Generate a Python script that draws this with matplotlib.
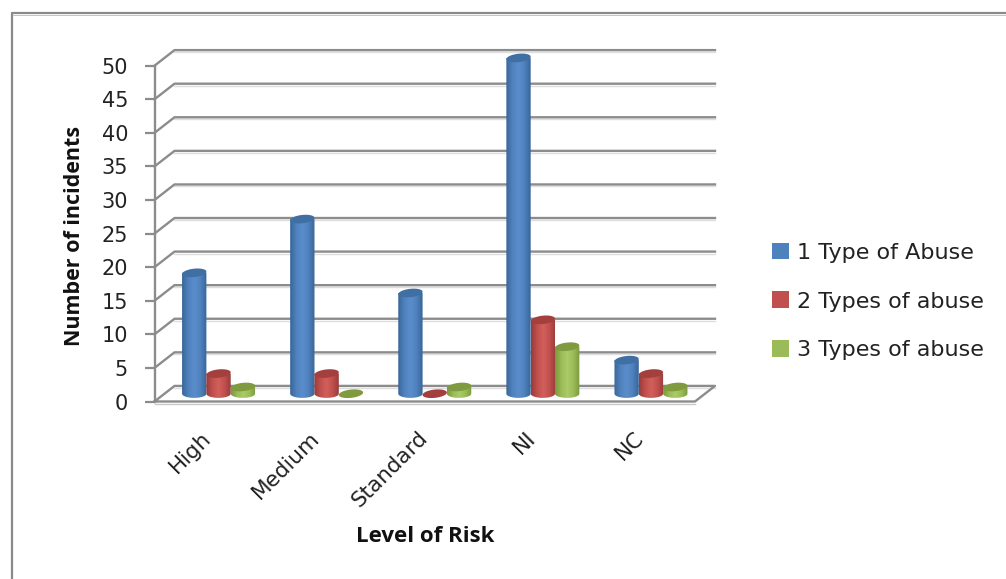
import numpy as np
import matplotlib
matplotlib.use("Agg")
import matplotlib.pyplot as plt
from matplotlib.colors import LinearSegmentedColormap
from matplotlib.lines import Line2D
from matplotlib.patches import Patch, Polygon

W, H = 1006, 579

categories = ["High", "Medium", "Standard", "NI", "NC"]
one_type = [18, 26, 15, 50, 5]
two_types = [3, 3, 0, 11, 3]
three_types = [1, 0, 1, 7, 1]
series_names = ["1 Type of Abuse", "2 Types of abuse", "3 Types of abuse"]
y_ticks = [0, 5, 10, 15, 20, 25, 30, 35, 40, 45, 50]

# (shadow, mid, highlight) for each series
palette = [("#38669a", "#4f81bd", "#5a8dcb"),
           ("#983c3a", "#c0504d", "#d25f5c"),
           ("#7a9a3c", "#9bbb59", "#abcb66")]
top_colors = ["#3f6fa3", "#a33f3d", "#7f9a3f"]
grid_color = "#8c8c8c"

# depth of the box, in data units
depth_x = 0.185
depth_y = 2.32
bar_w = 0.225


def cylinder(ax, x, value, colors, top):
    """Draw one shaded cylinder standing halfway into the box."""
    half = bar_w / 2
    base = depth_y * 0.5
    ry = 0.62
    if value > 0:
        arc = np.linspace(0, np.pi, 30)
        lower = np.column_stack([x + half * np.cos(arc), base - ry * np.sin(arc)])
        verts = np.vstack([[(x - half, base + value), (x + half, base + value)], lower])
        body = Polygon(verts, closed=True, fc="none", ec="none", zorder=4)
        ax.add_patch(body)
        cmap = LinearSegmentedColormap.from_list(
            "c", [colors[0], colors[1], colors[2], colors[1], colors[0]])
        grad = ax.imshow(np.linspace(0, 1, 64).reshape(1, -1), cmap=cmap, aspect="auto",
                         extent=(x - half, x + half, base - ry, base + value), zorder=4)
        grad.set_clip_path(body)
        # the tallest bar pokes out above the front plane
        grad.set_clip_box(ax.figure.bbox)
    t = np.linspace(0, 2 * np.pi, 60)
    ring = np.column_stack([x + half * np.cos(t),
                            base + value + ry * np.sin(t) + 0.18 * np.cos(t)])
    ax.add_patch(Polygon(ring, closed=True, fc=top, ec="none", zorder=5, clip_on=False))


fig = plt.figure(figsize=(W / 100, H / 100), dpi=100)
plt.rcParams["font.family"] = ["DejaVu Sans"]

# outer chart frame
fig.add_artist(Line2D([11.5 / W, 11.5 / W, 1], [0, 1 - 13 / H, 1 - 13 / H],
                      color="#8a8a8a", lw=1.6))
fig.add_artist(Line2D([13 / W, 1], [1 - 14.5 / H, 1 - 14.5 / H], color="#c4c4c4", lw=0.7))

# axes rectangle is the front plane of the box
left, right, top_px, bottom_px = 154.5, 695, 65.7, 401.5
ax = fig.add_axes([left / W, 1 - bottom_px / H, (right - left) / W, (bottom_px - top_px) / H])
ax.patch.set_alpha(0)

xs = np.arange(len(categories))
for v in y_ticks:
    # soft shadow, side wall diagonal and back wall line
    ax.plot([depth_x, 5 + depth_x], [v + depth_y - 0.3] * 2, color="#dedede", lw=1.0,
            zorder=1, clip_on=False)
    if v > 0:
        ax.plot([0, depth_x, 5 + depth_x], [v, v + depth_y, v + depth_y], color=grid_color,
                lw=1.7, zorder=2, clip_on=False, solid_joinstyle="round")

# floor of the box
ax.plot([0, 5, 5 + depth_x, depth_x, 0], [0, 0, depth_y, depth_y, 0], color=grid_color,
        lw=1.7, zorder=3, clip_on=False)
ax.plot([0, 5], [-0.3, -0.3], color="#c8c8c8", lw=1.0, zorder=2, clip_on=False)

series = [one_type, two_types, three_types]
for i, vals in enumerate(series):
    for x, v in zip(xs, vals):
        cylinder(ax, x + 0.5 + depth_x / 2 + (i - 1) * bar_w, v, palette[i], top_colors[i])

ax.set_xlim(0, 5)
ax.set_ylim(0, 50)
for s in ["top", "right", "bottom"]:
    ax.spines[s].set_visible(False)
ax.spines["left"].set_color(grid_color)
ax.spines["left"].set_linewidth(1.7)
ax.set_yticks(y_ticks)
ax.tick_params(axis="y", length=7, width=1.6, color=grid_color, labelsize=15,
               pad=12, labelcolor="#222222")
ax.set_xticks(xs + 0.43)
ax.set_xticklabels(categories, rotation=45, ha="right", rotation_mode="anchor",
                   fontsize=15.5, color="#222222")
ax.tick_params(axis="x", length=0, pad=19)

fig.text(74 / W, 1 - 236 / H, "Number of incidents", rotation=90, fontsize=15.5,
         fontweight="bold", ha="center", va="center", color="#111111", family="Open Sans")
fig.text(425 / W, 1 - 536 / H, "Level of Risk", fontsize=16, fontweight="bold",
         ha="center", va="center", color="#111111", family="Open Sans")

handles = [Patch(fc=palette[i][1], ec="none", label=series_names[i]) for i in range(3)]
fig.legend(handles=handles, loc="center left", bbox_to_anchor=(772 / W, 1 - 301.5 / H),
           frameon=False, fontsize=16, handlelength=0.77, handleheight=0.77, handletextpad=0.36,
           labelspacing=1.3, labelcolor="#222222", borderpad=0, borderaxespad=0)

fig.savefig("out.png", dpi=100)
